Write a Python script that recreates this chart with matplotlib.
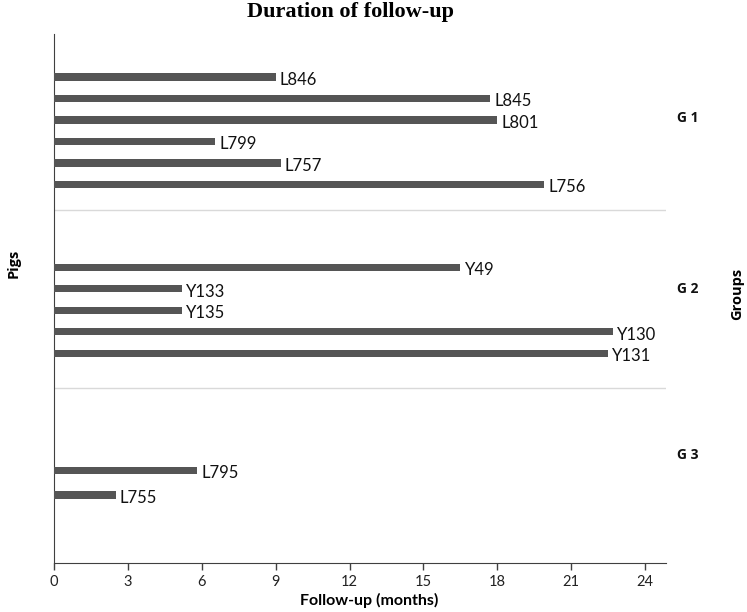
import matplotlib
matplotlib.use("Agg")
import matplotlib.pyplot as plt

# follow-up per pig, months
groups = ["G 1", "G 2", "G 3"]
g1_pigs = ["L846", "L845", "L801", "L799", "L757", "L756"]
g1_months = [9.0, 17.7, 18.0, 6.55, 9.2, 19.9]
g2_pigs = ["Y49", "Y133", "Y135", "Y130", "Y131"]
g2_months = [16.5, 5.2, 5.2, 22.7, 22.5]
g3_pigs = ["L795", "L755"]
g3_months = [5.8, 2.5]
xticks = [0, 3, 6, 9, 12, 15, 18, 21, 24]

bar_color = "#555555"
label_font = ["Lato", "DejaVu Sans"]
bold_font = ["Open Sans", "DejaVu Sans"]

fig = plt.figure(figsize=(7.47, 6.12), dpi=100)
ax = fig.add_axes([0.0723, 0.0801, 0.8193, 0.8643])

# row layout: first row of each group, row step, separator position
group_start = [2.0, 10.85, 20.28]
group_step = [1.0, 1.0, 1.16]
separators = [8.19, 16.47]
group_label_y = [3.9, 11.85, 19.6]

all_data = [(g1_pigs, g1_months), (g2_pigs, g2_months), (g3_pigs, g3_months)]
for gi, (pigs, months) in enumerate(all_data):
    ys = [group_start[gi] + i * group_step[gi] for i in range(len(pigs))]
    ax.barh(ys, months, height=0.33, color=bar_color, zorder=3)
    for y, m, name in zip(ys, months, pigs):
        ax.annotate(name, (m, y), xytext=(3, -2), textcoords="offset points",
                    ha="left", va="center", fontsize=12, family=label_font,
                    color="#111111")
    ax.text(1.035, group_label_y[gi], groups[gi], transform=ax.get_yaxis_transform(),
            ha="center", va="center", fontsize=10, fontweight="bold",
            family=bold_font, color="#111111")

for s in separators:
    ax.axhline(s, color="#d9d9d9", linewidth=1, zorder=1)

ax.set_xlim(0, 24.85)
ax.set_ylim(24.6, 0)
ax.set_xticks(xticks)
ax.set_yticks([])
ax.tick_params(axis="x", length=5, width=1, color="#404040", labelsize=10.5,
               labelcolor="#222222", pad=4)
for lab in ax.get_xticklabels():
    lab.set_family(label_font)

for side in ["top", "right"]:
    ax.spines[side].set_visible(False)
ax.spines["left"].set_color("#404040")
ax.spines["bottom"].set_color("#404040")

ax.set_xlabel("Follow-up (months)", fontsize=11.5, fontweight="bold",
              family=label_font)
ax.xaxis.set_label_coords(0.515, -0.057)

fig.text(0.0187, 0.570, "Pigs", rotation=90, ha="center", va="center",
         fontsize=10.5, fontweight="bold", family=bold_font)
fig.text(0.9866, 0.52, "Groups", rotation=90, ha="center", va="center",
         fontsize=10.5, fontweight="bold", family=bold_font)

fig.text(0.469, 0.98, "Duration of follow-up", ha="center", va="center",
         fontsize=16, fontweight="bold", family=["Liberation Serif", "DejaVu Serif"])

fig.savefig("out.png", dpi=100)
